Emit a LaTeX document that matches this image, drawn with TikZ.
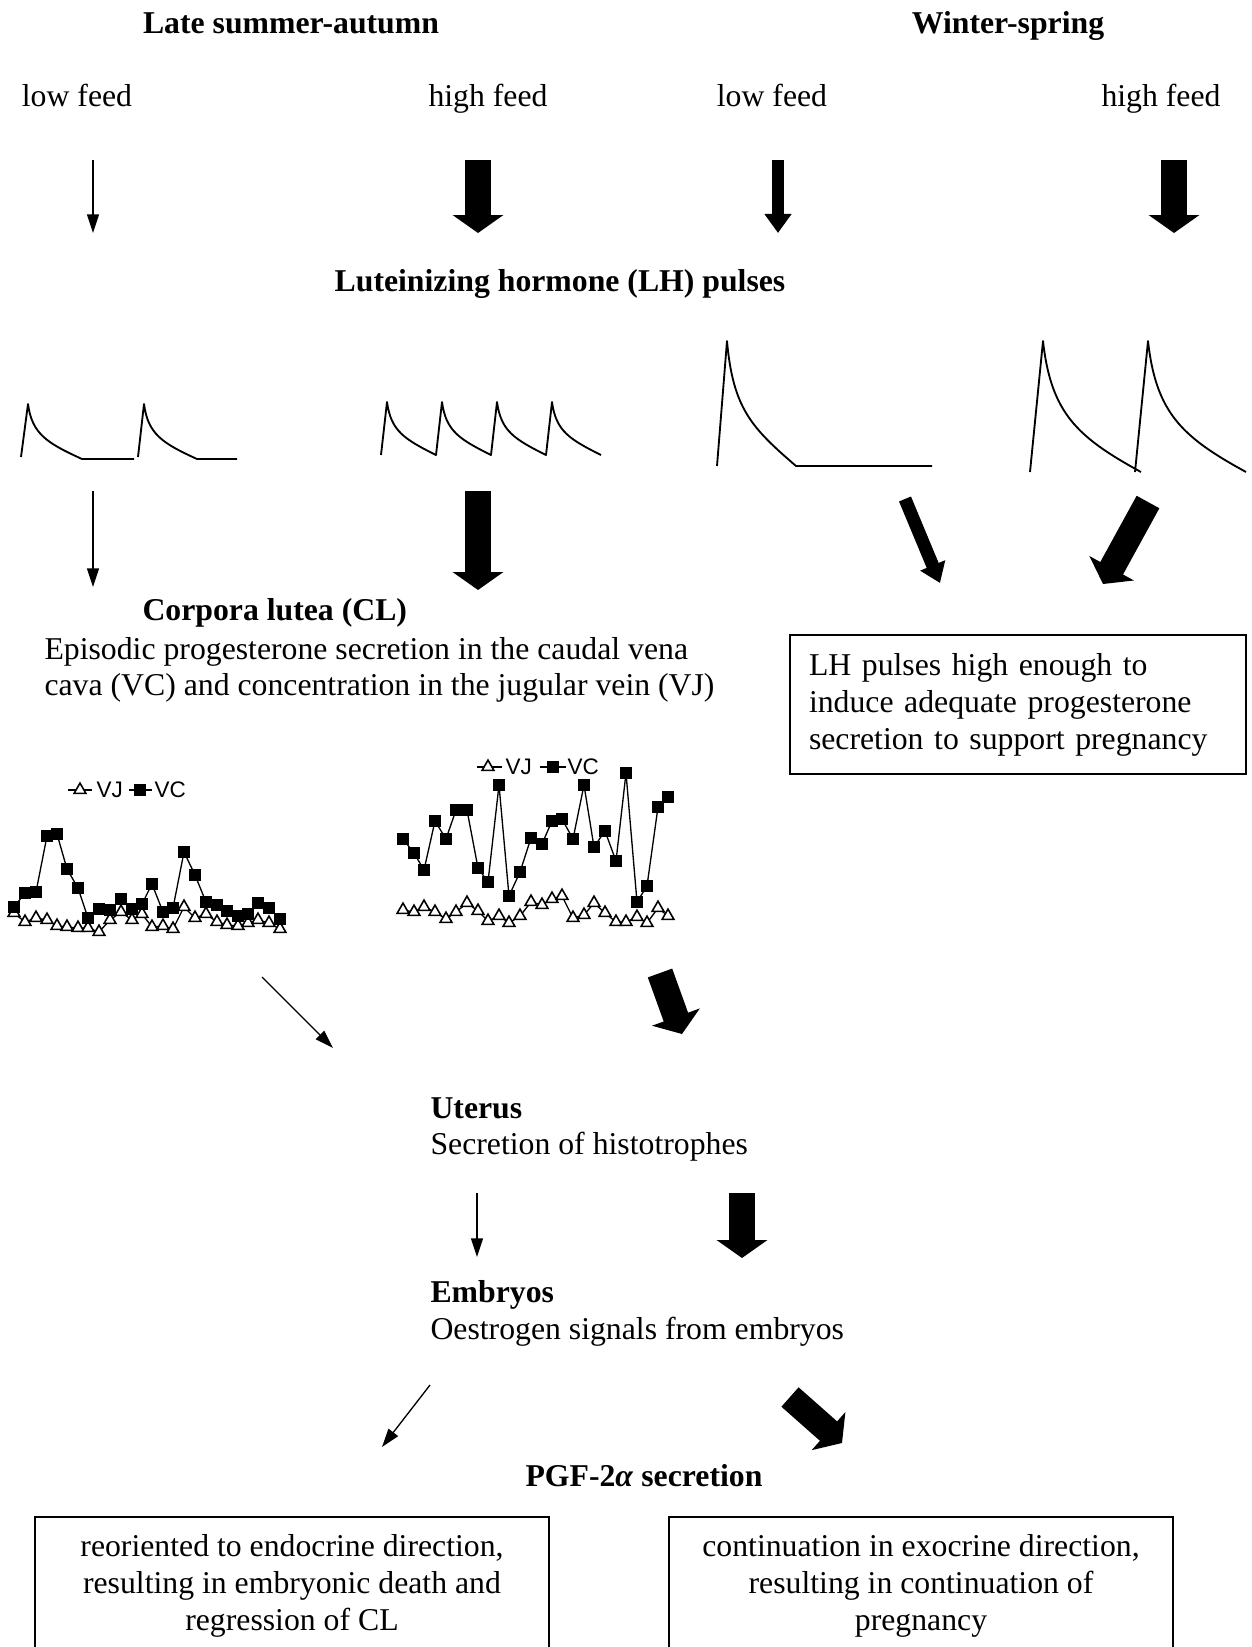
\documentclass[tikz,border=0pt]{standalone}
\usepackage{fontspec}
\setmainfont{Liberation Serif}
\newfontfamily\legendfont{Liberation Sans}
\usetikzlibrary{arrows.meta,plotmarks}

\begin{document}
\begin{tikzpicture}[x=0.378pt,y=-0.378pt,
	txt/.style={inner sep=0pt,font=\fontsize{12}{14}\selectfont,text height=10pt,text depth=1.8pt},
	hd/.style={txt,font=\fontsize{12}{14}\selectfont\bfseries},
	leg/.style={inner sep=0pt,font=\legendfont\fontsize{8.5}{10}\selectfont},
	box/.style={draw,line width=0.6pt,inner sep=0pt,font=\fontsize{12}{14}\selectfont},
	lowarrow/.style={line width=0.5pt,-{Triangle[length=7pt,width=4.5pt]}},
	midarrow/.style={line width=4.9pt,-{Triangle[length=7.2pt,width=9.8pt]}},
	higharrow/.style={line width=9.8pt,-{Triangle[length=6.8pt,width=18.9pt]}},
	pulse/.style={line width=0.7pt,line join=round},
	vc/.style={line width=0.5pt,mark=square*,mark size=1.9pt},
	vj/.style={line width=0.5pt,mark=triangle*,mark size=2.6pt,mark options={fill=white,line width=0.6pt}}]
	\useasboundingbox (0,0) rectangle (1251,1647);
	\clip (0,0) rectangle (1251,1647);
	% seasons and feed
	\node[hd] (lsa) at (291,23) {Late summer-autumn};
	\node[hd] (ws) at (1008,23) {Winter-spring};
	\node[txt] (lowA) at (77,96) {low feed};
	\node[txt] (highA) at (488,96) {high feed};
	\node[txt] (lowB) at (772,96) {low feed};
	\node[txt] (highB) at (1161,96) {high feed};
	\coordinate (fa1) at (93,160); \coordinate (fa2) at (93,233);
	\coordinate (fb1) at (478,160); \coordinate (fb2) at (478,233);
	\coordinate (fc1) at (778,160); \coordinate (fc2) at (778,233);
	\coordinate (fd1) at (1174,160); \coordinate (fd2) at (1174,233);
	\draw[lowarrow] (fa1) -- (fa2);
	\draw[higharrow] (fb1) -- (fb2);
	\draw[midarrow] (fc1) -- (fc2);
	\draw[higharrow] (fd1) -- (fd2);
	\node[hd] (lh) at (560,281) {Luteinizing hormone (LH) pulses};
	% LH pulses
	\draw[pulse] (21,457) -- (28,404) .. controls (32,434) and (47,443) .. (82,459) -- (134,459)
		(138,457) -- (144,404) .. controls (148,434) and (162,443) .. (197,459) -- (237,459);
	\draw[pulse] (381,455) \foreach \s in {381,436,491,546} {
		-- (\s+6,402) .. controls (\s+10,431) and (\s+23,439) .. (\s+55,455)};
	\draw[pulse] (717,466) -- (727,341) .. controls (733,409) and (752,428) .. (796,466) -- (932,466);
	\draw[pulse] (1030,472) -- (1043,341) .. controls (1051,413) and (1077,437) .. (1141,472)
		(1135,472) -- (1148,341) .. controls (1156,413) and (1182,437) .. (1246,472);
	\coordinate (ga1) at (93,491); \coordinate (ga2) at (93,587);
	\coordinate (gb1) at (478,491); \coordinate (gb2) at (478,590);
	\coordinate (gc1) at (905,499); \coordinate (gc2) at (940,583);
	\coordinate (gd1) at (1148,502); \coordinate (gd2) at (1103,584);
	\draw[lowarrow] (ga1) -- (ga2);
	\draw[higharrow] (gb1) -- (gb2);
	\draw[midarrow] (gc1) -- (gc2);
	\draw[higharrow] (gd1) -- (gd2);
	% corpora lutea
	\node[hd,anchor=west] (cl) at (142,610) {Corpora lutea (CL)};
	\node[txt,anchor=west] (clA) at (44,649) {Episodic progesterone secretion in the caudal vena};
	\node[txt,anchor=west] (clB) at (44,685) {cava (VC) and concentration in the jugular vein (VJ)};
	\node[box,align=left,text width=158pt,inner xsep=7.2pt,minimum height=52.5pt] (lhbox) at (1018,704.5)
		{LH pulses high enough to\\induce adequate progesterone\\secretion to support pregnancy};
	% progesterone charts
	\draw (68,790) -- (92,790);
	\draw[vj] plot coordinates {(80,790)};
	\node[leg,anchor=west] (vjA) at (96,790) {VJ};
	\draw (129,790) -- (152,790);
	\draw[vc] plot coordinates {(140,790)};
	\node[leg,anchor=west] (vcA) at (154,790) {VC};
	\draw[vj] plot coordinates {(14,913) (25,922) (36,918) (47,920) (57,926) (67,927) (78,928) (88,928)
		(99,932) (110,920) (121,912) (132,920) (142,914) (152,927) (163,926) (173,929) (184,907)
		(195,918) (206,914) (217,922) (227,925) (238,926) (248,923) (258,920) (269,923) (280,929)};
	\draw[vc] plot coordinates {(14,907) (25,893) (36,892) (47,836) (57,834) (67,869) (78,888) (88,918)
		(99,909) (110,910) (121,899) (132,909) (142,904) (152,884) (163,912) (173,908) (184,852)
		(195,875) (206,902) (217,905) (227,911) (238,916) (248,914) (258,903) (269,908) (280,919)};
	\draw (477,767) -- (502,767);
	\draw[vj] plot coordinates {(488,767)};
	\node[leg,anchor=west] (vjB) at (505,767) {VJ};
	\draw (540,767) -- (566,767);
	\draw[vc] plot coordinates {(553,767)};
	\node[leg,anchor=west] (vcB) at (567,767) {VC};
	\draw[vj] plot coordinates {(403,910) (414,912) (424,907) (435,912) (446,919) (456,912) (467,903)
		(478,911) (488,921) (499,916) (509,923) (520,916) (531,902) (542,905) (552,899) (562,896)
		(573,918) (584,915) (594,903) (605,913) (616,922) (626,922) (637,917) (647,923) (658,908) (668,916)};
	\draw[vc] plot coordinates {(403,839) (414,853) (424,870) (435,821) (446,839) (456,810) (467,810)
		(478,868) (488,882) (499,785) (509,896) (520,872) (531,838) (542,844) (552,821) (562,819)
		(573,839) (584,785) (594,847) (605,831) (616,861) (626,773) (637,902) (647,886) (658,807) (668,797)};
	\coordinate (ha1) at (262,977); \coordinate (ha2) at (333,1048);
	\coordinate (hb1) at (660,973); \coordinate (hb2) at (682,1034);
	\draw[lowarrow] (ha1) -- (ha2);
	\draw[higharrow] (hb1) -- (hb2);
	% uterus and embryos
	\node[hd,anchor=west] (uterus) at (430,1108) {Uterus};
	\node[txt,anchor=west] (uterusA) at (430,1144) {Secretion of histotrophes};
	\coordinate (ka1) at (477,1193); \coordinate (ka2) at (477,1257);
	\coordinate (kb1) at (742,1193); \coordinate (kb2) at (742,1258);
	\draw[lowarrow] (ka1) -- (ka2);
	\draw[higharrow] (kb1) -- (kb2);
	\node[hd,anchor=west] (embryos) at (430,1292) {Embryos};
	\node[txt,anchor=west] (embryosA) at (430,1329) {Oestrogen signals from embryos};
	\coordinate (ma1) at (430,1385); \coordinate (ma2) at (382,1447);
	\coordinate (mb1) at (790,1397); \coordinate (mb2) at (842,1443);
	\draw[lowarrow] (ma1) -- (ma2);
	\draw[higharrow] (mb1) -- (mb2);
	\node[hd] (pgf) at (644,1476) {PGF-2\textit{α} secretion};
	% outcome
	\node[box,anchor=north,align=center,minimum width=194.3pt,minimum height=52.5pt] (endo) at (292,1516)
		{reoriented to endocrine direction,\\resulting in embryonic death and\\regression of CL};
	\node[box,anchor=north,align=center,minimum width=190.5pt,minimum height=52.5pt] (exo) at (921,1516)
		{continuation in exocrine direction,\\resulting in continuation of\\pregnancy};
\end{tikzpicture}
\end{document}
